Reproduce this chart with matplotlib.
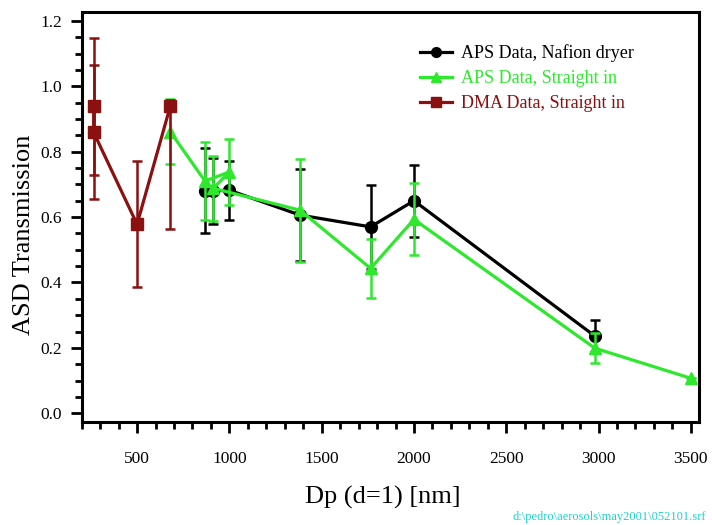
import numpy as np
import matplotlib
matplotlib.use("Agg")
import matplotlib.pyplot as plt
from matplotlib.ticker import MultipleLocator, FormatStrFormatter
from matplotlib.lines import Line2D

plt.rcParams['font.family'] = ['Liberation Serif', 'DejaVu Serif']

# APS data with the Nafion dryer
dry_dp = [868, 913, 1000, 1383, 1765, 2000, 2980]
dry_tr = [0.68, 0.68, 0.682, 0.606, 0.57, 0.65, 0.236]
dry_err = [0.13, 0.10, 0.09, 0.14, 0.128, 0.11, 0.05]

# APS data, straight in (points in measurement order)
str_dp = [680, 868, 1000, 913, 1383, 1765, 2000, 2980, 3500]
str_tr = [0.861, 0.71, 0.738, 0.688, 0.621, 0.443, 0.593, 0.199, 0.107]
str_err = [0.10, 0.12, 0.10, 0.10, 0.157, 0.09, 0.11, 0.045, 0.0]

# DMA data, straight in
dma_dp = [265, 265, 500, 680]
dma_tr = [0.939, 0.859, 0.578, 0.939]
dma_lo = [0.21, 0.205, 0.193, 0.376]
dma_hi = [0.21, 0.205, 0.193, 0.02]

labels = ['APS Data, Nafion dryer', 'APS Data, Straight in', 'DMA Data, Straight in']
black = 'black'
green = '#2ee82e'
dred = '#8b1010'

fig = plt.figure(figsize=(7.12, 5.25), dpi=100)
ax = fig.add_axes([0.1147, 0.196, 0.8673, 0.7817])

kw = dict(lw=2.3, elinewidth=1.8, capsize=3.5, capthick=1.8)
ax.errorbar(dry_dp, dry_tr, yerr=dry_err, color=black, marker='o', ms=8.5, zorder=3, **kw)
ax.errorbar(str_dp, str_tr, yerr=str_err, color=green, marker='^', ms=8, zorder=4, **kw)
ax.errorbar(dma_dp, dma_tr, yerr=[dma_lo, dma_hi], color=dred, marker='s', ms=8.5, zorder=5, **kw)

ax.set_xlim(200, 3545)
ax.set_ylim(-0.027, 1.228)
ax.xaxis.set_major_locator(MultipleLocator(500))
ax.xaxis.set_minor_locator(MultipleLocator(100))
ax.yaxis.set_major_locator(MultipleLocator(0.2))
ax.yaxis.set_minor_locator(MultipleLocator(0.05))
ax.yaxis.set_major_formatter(FormatStrFormatter('%.1f'))

for s in ax.spines.values():
    s.set_linewidth(2.2)
ax.tick_params(which='major', direction='out', length=8, width=2, labelsize=12.5, pad=6)
ax.tick_params(which='minor', direction='out', length=5, width=2)
ax.tick_params(axis='x', which='major', pad=13)

ax.set_xlabel('Dp (d=1) [nm]', fontsize=19)
ax.set_ylabel('ASD Transmission', fontsize=19)
ax.xaxis.set_label_coords(0.488, -0.155)
ax.yaxis.set_label_coords(-0.075, 0.456)

# legend shows plain line + marker handles
handles = [Line2D([], [], color=c, marker=m, ms=7, lw=2.3)
           for c, m in zip([black, green, dred], ['o', '^', 's'])]
leg = ax.legend(handles, labels, loc='upper left',
                bbox_to_anchor=(420 / 712, 1 - 44 / 525), bbox_transform=fig.transFigure,
                frameon=False, fontsize=13, handlelength=1.78, handletextpad=0.5,
                labelspacing=0.45, borderpad=0, borderaxespad=0)
for txt, c in zip(leg.get_texts(), [black, green, dred]):
    txt.set_color(c)

fig.text(0.992, 0.004, r'd:\pedro\aerosols\may2001\052101.srf', color='#22d0d0',
         fontsize=9, ha='right', va='bottom')

fig.savefig('out.png', dpi=100)
